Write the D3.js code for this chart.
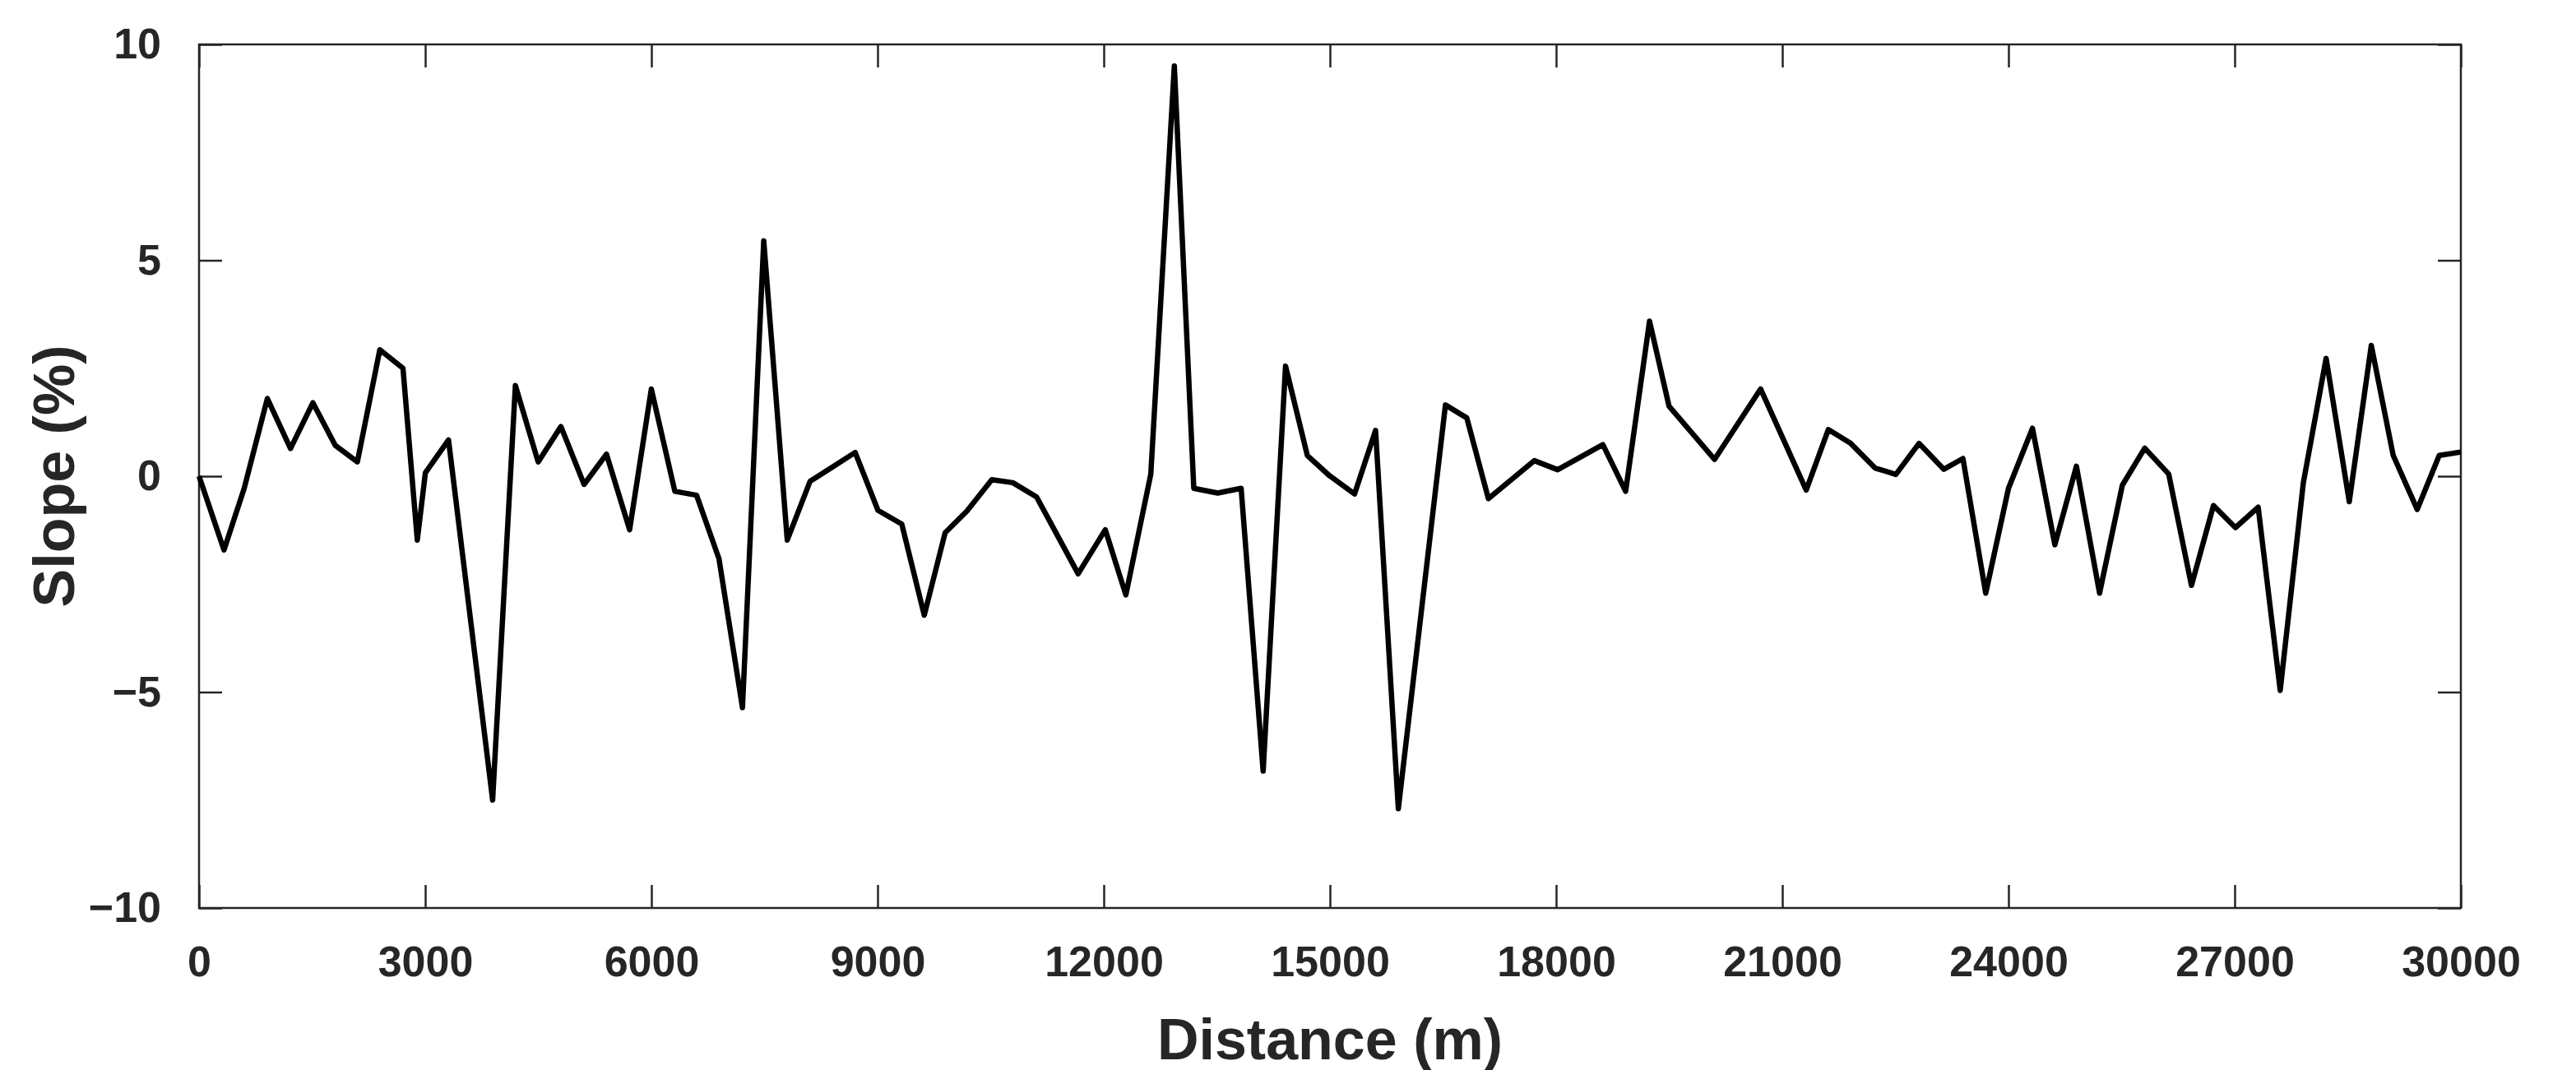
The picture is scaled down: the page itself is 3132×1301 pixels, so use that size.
<!DOCTYPE html>
<html>
<head>
<meta charset="utf-8">
<script src="https://cdn.jsdelivr.net/npm/d3@7"></script>
<style>
  body { margin: 0; background: #fff; }
  text { font-family: "Liberation Sans", Arial, sans-serif; font-weight: bold; fill: #262626; }
</style>
</head>
<body>
<svg id="chart" width="3132" height="1301"></svg>
<script>
// distance (m) and slope (%)
var distance = [0, 331, 599, 906, 1213, 1510, 1808, 2100, 2398, 2705, 2895, 3002, 3309, 3894, 4196, 4498,
  4800, 5107, 5404, 5711, 5999, 6311, 6599, 6896, 7208, 7490, 7802, 8104, 8703, 9005, 9321, 9619,
  9896, 10184, 10515, 10793, 11109, 11660, 12020, 12293, 12624, 12936, 13194, 13510, 13822, 14114,
  14411, 14700, 14995, 15327, 15605, 15907, 16532, 16815, 17102, 17712, 18020, 18620, 18922, 19239,
  19498, 20102, 20712, 21317, 21610, 21907, 22230, 22506, 22813, 23141, 23396, 23698, 24000, 24318,
  24615, 24901, 25208, 25510, 25807, 26125, 26427, 26719, 27010, 27312, 27604, 27911, 28213, 28520,
  28812, 29103, 29421, 29713, 30000];
var slope = [0, -1.71, -0.28, 1.80, 0.64, 1.70, 0.71, 0.33, 2.93, 2.50, -1.48, 0.08, 0.84, -7.5, 2.10, 0.33,
  1.15, -0.19, 0.51, -1.24, 2.02, -0.35, -0.44, -1.91, -5.36, 5.45, -1.48, -0.12, 0.55, -0.79, -1.11, -3.22,
  -1.31, -0.81, -0.08, -0.15, -0.48, -2.26, -1.24, -2.75, 0.05, 9.50, -0.28, -0.39, -0.28, -6.83,
  2.55, 0.48, 0.01, -0.41, 1.06, -7.7, 1.65, 1.35, -0.52, 0.36, 0.15, 0.73, -0.35, 3.59,
  1.62, 0.39, 2.02, -0.32, 1.08, 0.76, 0.19, 0.04, 0.76, 0.16, 0.41, -2.71, -0.28, 1.11,
  -1.59, 0.23, -2.71, -0.21, 0.65, 0.05, -2.53, -0.68, -1.19, -0.72, -4.96, -0.15, 2.73, -0.59,
  3.03, 0.48, -0.77, 0.48, 0.56];
var xTicks = [0, 3000, 6000, 9000, 12000, 15000, 18000, 21000, 24000, 27000, 30000];
var yTicks = [-10, -5, 0, 5, 10];

var mLeft = 242, mRight = 2992, mTop = 54, mBottom = 1104;
var svg = d3.select('#chart');

var x = d3.scaleLinear().domain([0, 30000]).range([mLeft, mRight]);
var y = d3.scaleLinear().domain([-10, 10]).range([mBottom, mTop]);

function styleAxis(g) {
  g.select('.domain').remove();
  g.selectAll('line').attr('stroke', '#262626').attr('stroke-width', 2.5);
  g.selectAll('text').attr('font-size', 52).style('font-weight', 'bold');
}

// ticks point inwards on all four sides
svg.append('g').attr('transform', 'translate(0,' + mBottom + ')')
  .call(d3.axisBottom(x).tickValues(xTicks).tickFormat(d3.format('d')).tickSizeInner(-28).tickPadding(46))
  .call(styleAxis);
svg.append('g').attr('transform', 'translate(0,' + mTop + ')')
  .call(d3.axisTop(x).tickValues(xTicks).tickFormat('').tickSizeInner(-28))
  .call(styleAxis);
svg.append('g').attr('transform', 'translate(' + mLeft + ',0)')
  .call(d3.axisLeft(y).tickValues(yTicks).tickSizeInner(-28).tickPadding(46))
  .call(styleAxis);
svg.append('g').attr('transform', 'translate(' + mRight + ',0)')
  .call(d3.axisRight(y).tickValues(yTicks).tickFormat('').tickSizeInner(-28))
  .call(styleAxis);

svg.append('rect').attr('x', mLeft).attr('y', mTop)
  .attr('width', mRight - mLeft).attr('height', mBottom - mTop)
  .attr('fill', 'none').attr('stroke', '#262626').attr('stroke-width', 2.5);

var line = d3.line().x(function(d, i) { return x(distance[i]); }).y(function(d) { return y(d); });
svg.append('path').datum(slope)
  .attr('d', line)
  .attr('fill', 'none').attr('stroke', '#000').attr('stroke-width', 6.5)
  .attr('stroke-linejoin', 'round');

svg.append('text').attr('x', (mLeft + mRight) / 2).attr('y', 1288)
  .attr('text-anchor', 'middle').attr('font-size', 70).text('Distance (m)');
svg.append('text').attr('transform', 'translate(90,' + ((mTop + mBottom) / 2) + ') rotate(-90)')
  .attr('text-anchor', 'middle').attr('font-size', 70).text('Slope (%)');
</script>
</body>
</html>
